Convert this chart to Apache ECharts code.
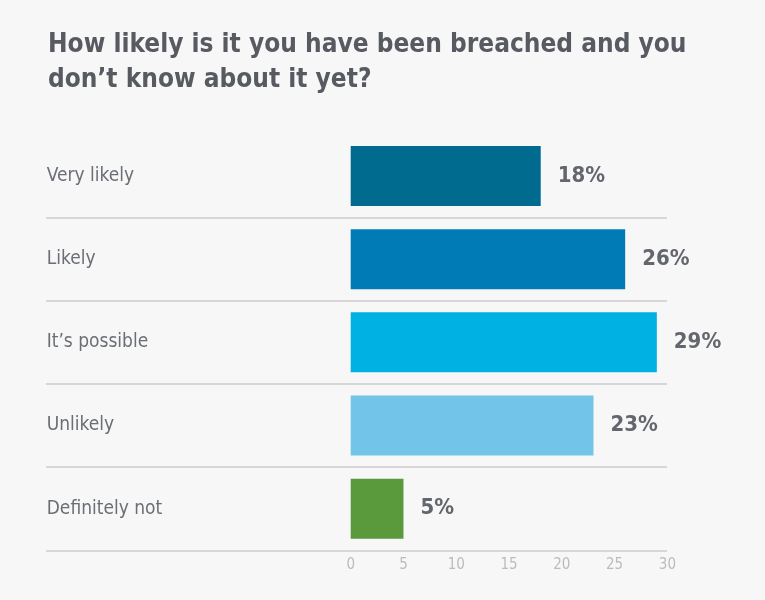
<!DOCTYPE html>
<html>
<head>
<meta charset="utf-8">
<script src="https://cdn.jsdelivr.net/npm/echarts@6/dist/echarts.min.js"></script>
<style>
    html, body { margin: 0; padding: 0; background: #f7f7f7; }
    #chart { width: 765px; height: 600px; }
</style>
</head>
<body>
<div id="chart"></div>
<script>
// 数据
var categories = ['Very likely', 'Likely', 'It\u2019s possible', 'Unlikely', 'Definitely not'];
var values = [18, 26, 29, 23, 5];
var barColors = ['#006a8f', '#007bb6', '#00b2e3', '#72c5e8', '#5a9a3c'];
var tickValues = [0, 5, 10, 15, 20, 25, 30];

var font = "'Liberation Sans Narrow', 'DejaVu Sans Condensed', sans-serif";

var myChart = echarts.init(document.getElementById('chart'));

var option = {
    backgroundColor: '#f7f7f7',
    animation: false,
    title: {
        text: 'How likely is it you have been breached and you\ndon\u2019t know about it yet?',
        left: 43,
        top: 23,
        textStyle: {
            fontFamily: font,
            fontSize: 26,
            fontWeight: 'bold',
            color: '#575b61',
            lineHeight: 35
        }
    },
    grid: [
        // 柱状图区域
        { left: 350.7, right: 97.6, top: 134.4, bottom: 49.7 },
        // 分隔线区域(比柱状图宽,从标签处开始)
        { left: 46, right: 98, top: 217.6, bottom: 49.7 }
    ],
    xAxis: [
        {
            type: 'value',
            gridIndex: 0,
            min: tickValues[0],
            max: tickValues[tickValues.length - 1],
            interval: 5,
            axisLine: { show: false },
            axisTick: { show: false },
            splitLine: { show: false },
            axisLabel: {
                margin: 7,
                fontFamily: font,
                fontSize: 15,
                color: '#b9bcbf'
            }
        },
        {
            type: 'value',
            gridIndex: 1,
            min: 0,
            max: 1,
            show: false
        }
    ],
    yAxis: [
        {
            type: 'category',
            gridIndex: 0,
            data: categories,
            inverse: true,
            axisLine: { show: false },
            axisTick: { show: false },
            splitLine: { show: false },
            axisLabel: {
                align: 'left',
                margin: 304,
                fontFamily: font,
                fontSize: 19,
                color: '#6b6f75'
            }
        },
        {
            type: 'value',
            gridIndex: 1,
            min: 0,
            max: 4,
            interval: 1,
            axisLine: { show: false },
            axisTick: { show: false },
            axisLabel: { show: false },
            splitLine: {
                show: true,
                lineStyle: { color: '#cdcdcd', width: 1.5 }
            }
        }
    ],
    series: [
        {
            type: 'bar',
            xAxisIndex: 0,
            yAxisIndex: 0,
            barWidth: 60,
            data: values.map(function (v, i) {
                return { value: v, itemStyle: { color: barColors[i] } };
            }),
            label: {
                show: true,
                position: 'right',
                distance: 17,
                formatter: '{c}%',
                fontFamily: font,
                fontSize: 22,
                fontWeight: 'bold',
                color: '#63676d'
            }
        },
        {
            type: 'line',
            xAxisIndex: 1,
            yAxisIndex: 1,
            data: [],
            silent: true
        }
    ]
};

myChart.setOption(option);
</script>
</body>
</html>
